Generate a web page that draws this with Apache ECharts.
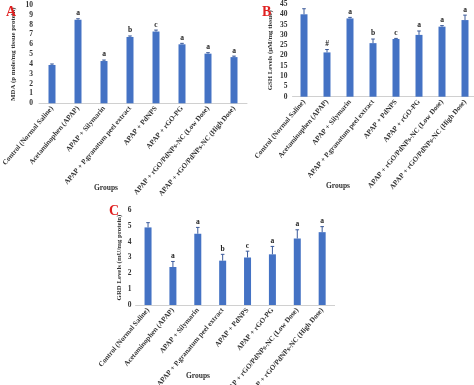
<!DOCTYPE html>
<html><head><meta charset="utf-8">
<script src="https://cdn.jsdelivr.net/npm/echarts@6/dist/echarts.min.js"></script>
<style>html,body{margin:0;padding:0;background:#fff}#c{width:474px;height:385px}</style>
</head><body><div id="c"></div>
<script>
const categories = ["Control (Normal Saline)","Acetaminophen (APAP)","APAP + Silymarin","APAP + P.granatum peel extract","APAP + PdNPS","APAP + rGO-PG","APAP + rGO/PdNPs-NC (Low Dose)","APAP + rGO/PdNPs-NC (High Dose)"];
const mdaValues = [3.9, 8.5, 4.3, 6.75, 7.3, 6.0, 5.05, 4.7];
const mdaErrors = [0.1, 0.1, 0.1, 0.1, 0.15, 0.1, 0.1, 0.1];
const mdaLetters = ["", "a", "a", "b", "c", "a", "a", "a"];
const gshValues = [40, 21.5, 38, 26, 28, 30, 34, 37.2];
const gshErrors = [2.7, 1.4, 0.5, 2.0, 0.3, 1.9, 0.5, 2.4];
const gshLetters = ["", "#", "a", "b", "c", "a", "a", "a"];
const grdValues = [4.9, 2.4, 4.5, 2.8, 3.0, 3.2, 4.2, 4.6];
const grdErrors = [0.3, 0.35, 0.4, 0.4, 0.4, 0.5, 0.55, 0.35];
const grdLetters = ["", "a", "a", "b", "c", "a", "a", "a"];
const mdaTicks = {min:0, max:10, interval:1};
const gshTicks = {min:0, max:45, interval:5};
const grdTicks = {min:0, max:6, interval:1};

const FONT = '"Liberation Serif", "Times New Roman", serif';
const BAR = '#4472C4';
const ERR = '#3b5a9a';

function errSeries(idx, vals, errs, letters){
  return {
    type:'custom', xAxisIndex:idx, yAxisIndex:idx, z:5,
    data: vals.map((v,i)=>[i, v, errs[i]]),
    renderItem:function(params, api){
      const i = api.value(0), v = api.value(1), e = api.value(2);
      const top = api.coord([i, v+e]);
      const bot = api.coord([i, v]);
      const cw = 1.8;
      const st = {stroke:ERR, lineWidth:1};
      return {type:'group', children:[
        {type:'line', shape:{x1:top[0], y1:bot[1], x2:top[0], y2:top[1]}, style:st},
        {type:'line', shape:{x1:top[0]-cw, y1:top[1], x2:top[0]+cw, y2:top[1]}, style:st},
        {type:'text', style:{x:top[0], y:top[1]-1.5, text:letters[params.dataIndex], textAlign:'center', textVerticalAlign:'bottom', font:'bold 7.5px '+FONT, fill:'#222'}}
      ]};
    }
  };
}

const grids = [
  {left:39, top:5, width:208, height:98.3, outerBoundsMode:'none', containLabel:false},
  {left:292.5, top:4, width:184, height:92.7, outerBoundsMode:'none', containLabel:false},
  {left:135.6, top:210, width:199, height:95, outerBoundsMode:'none', containLabel:false}
];
const yNames = ["MDA (p mole/mg tissue protein)", "GSH Levels (µM/mg tissue)", "GRD Levels (mU/mg protein)"];
const yTicks = [mdaTicks, gshTicks, grdTicks];
const yGaps = [22, 19, 13];
const yMargins = [6, 5, 4];

const chart = echarts.init(document.getElementById('c'));
chart.setOption({
  animation:false,
  grid: grids,
  xAxis: grids.map((g,k)=>({
    type:'category', gridIndex:k, data:categories,
    axisLine:{lineStyle:{color:'#d0d0d0'}}, axisTick:{show:false},
    axisLabel:{rotate:50, interval:0, margin:4, fontFamily:FONT, fontWeight:'bold', fontSize:7.2, color:'#333'}
  })),
  yAxis: grids.map((g,k)=>({
    type:'value', gridIndex:k, min:yTicks[k].min, max:yTicks[k].max, interval:yTicks[k].interval,
    axisLine:{show:false}, axisTick:{show:false}, splitLine:{show:false},
    axisLabel:{margin:yMargins[k], fontFamily:FONT, fontWeight:'bold', fontSize:7.5, color:'#333'},
    name:yNames[k], nameLocation:'middle', nameRotate:90, nameGap:yGaps[k],
    nameTextStyle:{fontFamily:FONT, fontWeight:'bold', fontSize:6.8, color:'#333'}
  })),
  title: [
    {text:'A', left:1, top:0, textStyle:{fontFamily:FONT, fontWeight:'bold', fontSize:14, color:'#e02020'}},
    {text:'B', left:257, top:0, textStyle:{fontFamily:FONT, fontWeight:'bold', fontSize:14, color:'#e02020'}},
    {text:'C', left:104, top:199, textStyle:{fontFamily:FONT, fontWeight:'bold', fontSize:14, color:'#e02020'}},
    {text:'Groups', left:89, top:179, textStyle:{fontFamily:FONT, fontWeight:'bold', fontSize:7.5, color:'#333'}},
    {text:'Groups', left:321, top:177, textStyle:{fontFamily:FONT, fontWeight:'bold', fontSize:7.5, color:'#333'}},
    {text:'Groups', left:181, top:367, textStyle:{fontFamily:FONT, fontWeight:'bold', fontSize:7.5, color:'#333'}}
  ],
  series: [
    {type:'bar', xAxisIndex:0, yAxisIndex:0, data:mdaValues, barWidth:7, itemStyle:{color:BAR}},
    {type:'bar', xAxisIndex:1, yAxisIndex:1, data:gshValues, barWidth:7, itemStyle:{color:BAR}},
    {type:'bar', xAxisIndex:2, yAxisIndex:2, data:grdValues, barWidth:7, itemStyle:{color:BAR}},
    errSeries(0, mdaValues, mdaErrors, mdaLetters),
    errSeries(1, gshValues, gshErrors, gshLetters),
    errSeries(2, grdValues, grdErrors, grdLetters)
  ]
});
</script></body></html>
